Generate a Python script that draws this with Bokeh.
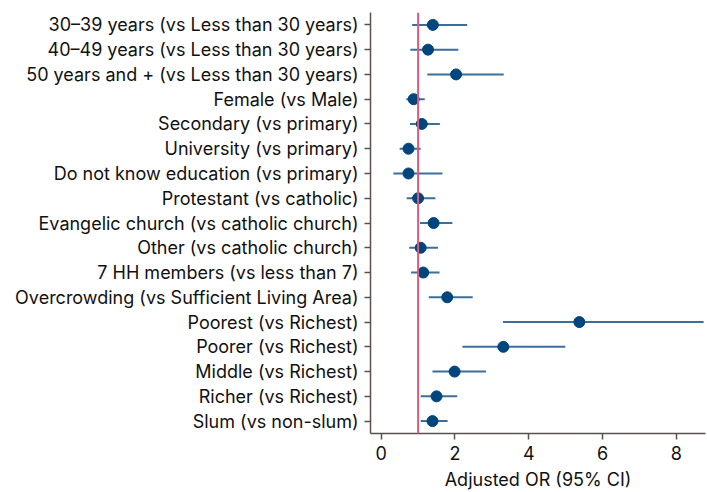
from bokeh.plotting import figure
from bokeh.models import FactorRange, Range1d, Span, ColumnDataSource
from bokeh.embed import file_html
from bokeh.resources import INLINE

labels = [
    "30\u201339 years (vs Less than 30 years)",
    "40\u201349 years (vs Less than 30 years)",
    "50 years and + (vs Less than 30 years)",
    "Female (vs Male)",
    "Secondary (vs primary)",
    "University (vs primary)",
    "Do not know education (vs primary)",
    "Protestant (vs catholic)",
    "Evangelic church (vs catholic church)",
    "Other (vs catholic church)",
    "7 HH members (vs less than 7)",
    "Overcrowding (vs Sufficient Living Area)",
    "Poorest (vs Richest)",
    "Poorer (vs Richest)",
    "Middle (vs Richest)",
    "Richer (vs Richest)",
    "Slum (vs non-slum)",
]
odds_ratio = [1.40, 1.27, 2.03, 0.88, 1.10, 0.74, 0.74, 1.00, 1.42, 1.07, 1.14, 1.79, 5.37, 3.31, 1.99, 1.50, 1.39]
ci_low = [0.84, 0.79, 1.25, 0.68, 0.78, 0.50, 0.33, 0.69, 1.05, 0.76, 0.81, 1.29, 3.30, 2.20, 1.39, 1.07, 1.07]
ci_high = [2.33, 2.09, 3.32, 1.18, 1.59, 1.07, 1.66, 1.47, 1.93, 1.54, 1.58, 2.48, 8.74, 4.99, 2.84, 2.06, 1.80]
x_ticks = [0, 2, 4, 6, 8]

src = ColumnDataSource(dict(label=labels, orv=odds_ratio, lo=ci_low, hi=ci_high))

p = figure(width=707, height=492, output_backend="svg", toolbar_location=None,
           y_range=FactorRange(factors=labels[::-1], range_padding=0),
           x_range=Range1d(-0.29, 8.79),
           min_border_left=370, min_border_right=2, min_border_top=12, min_border_bottom=58)
p.outline_line_color = None
p.xgrid.grid_line_color = None
p.ygrid.grid_line_color = None

p.add_layout(Span(location=1, dimension="height", line_color="#e8587a", line_width=2))
p.segment(x0="lo", x1="hi", y0="label", y1="label", source=src, line_color="#3a6f9a", line_width=2)
p.scatter(x="orv", y="label", source=src, size=11, fill_color="#00457c", line_color="#00457c")

font = "Inter"
for ax in (p.xaxis[0], p.yaxis[0]):
    ax.axis_line_color = "#5a5050"
    ax.axis_line_width = 1.5
    ax.major_tick_line_color = "#5a5050"
    ax.major_tick_line_width = 1.5
    ax.minor_tick_line_color = None
    ax.major_label_text_font = font
    ax.major_label_text_color = "#111111"
    ax.major_label_text_font_size = "18px"

p.xaxis.ticker = x_ticks
p.xaxis.major_tick_out = 6
p.xaxis.major_tick_in = 0
p.xaxis.axis_label = "Adjusted OR (95% CI)"
p.xaxis.axis_label_text_font = font
p.xaxis.axis_label_text_font_style = "normal"
p.xaxis.axis_label_text_font_size = "18px"
p.xaxis.axis_label_text_color = "#111111"
p.xaxis.axis_label_standoff = 6
p.xaxis.major_label_standoff = 6
p.yaxis.major_tick_out = 6
p.yaxis.major_tick_in = 0
p.yaxis.major_label_standoff = 6

open("out.html", "w").write(file_html(p, INLINE))
